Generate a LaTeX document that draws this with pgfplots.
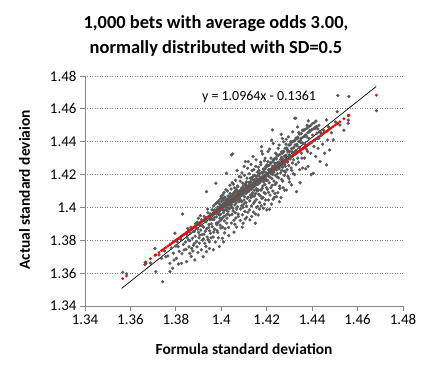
\documentclass[border=0pt]{standalone}
\usepackage{fontspec}
\setmainfont{Carlito}
\usepackage{pgfplots}
\usepackage{pgfplotstable}
\pgfplotsset{compat=1.18}
\definecolor{ptgray}{HTML}{595959}
\definecolor{axgray}{HTML}{868686}
\pgfplotstableread{
x y
1.3566 1.3605
1.3583 1.3596
1.3664 1.3652
1.3668 1.3660
1.3688 1.3662
1.3708 1.3751
1.3712 1.3609
1.3726 1.3711
1.3742 1.3548
1.3737 1.3690
1.3756 1.3700
1.3750 1.3735
1.3774 1.3660
1.3774 1.3609
1.3786 1.3630
1.3789 1.3721
1.3796 1.3843
1.3765 1.3705
1.3780 1.3752
1.3792 1.3680
1.3803 1.3690
1.3810 1.3761
1.3825 1.3660
1.3830 1.3960
1.3836 1.3741
1.3806 1.3790
1.3815 1.3732
1.3822 1.3805
1.3812 1.3655
1.3833 1.3775
1.3827 1.3718
1.3800 1.3765
1.3847 1.3670
1.3855 1.3802
1.3862 1.3721
1.3870 1.3751
1.3877 1.3853
1.3842 1.3790
1.3850 1.3835
1.3858 1.3760
1.3866 1.3880
1.3873 1.3812
1.3845 1.3745
1.3852 1.3872
1.3861 1.3798
1.3868 1.3702
1.3878 1.3770
1.3849 1.3818
1.3864 1.3845
1.3875 1.3735
1.3884 1.3680
1.3891 1.3792
1.3899 1.3934
1.3906 1.3832
1.3882 1.3855
1.3887 1.3901
1.3893 1.3760
1.3896 1.3868
1.3902 1.3815
1.3908 1.3950
1.3912 1.3742
1.3915 1.3889
1.3918 1.3800
1.3885 1.3825
1.3890 1.3875
1.3895 1.3910
1.3900 1.3848
1.3904 1.3782
1.3910 1.3862
1.3913 1.3925
1.3916 1.3835
1.3881 1.3780
1.3897 1.3725
1.3907 1.3890
1.3920 1.3700
1.3928 1.3782
1.3935 1.3731
1.3922 1.3880
1.3925 1.3945
1.3930 1.3855
1.3933 1.3912
1.3938 1.3820
1.3941 1.3968
1.3944 1.3878
1.3947 1.3790
1.3950 1.3925
1.3953 1.3842
1.3956 1.3900
1.3959 1.3985
1.3921 1.3808
1.3924 1.3838
1.3927 1.3915
1.3932 1.3762
1.3936 1.3870
1.3939 1.3938
1.3942 1.3805
1.3946 1.3895
1.3949 1.3858
1.3952 1.3960
1.3955 1.3815
1.3958 1.3930
1.3935 1.4096
1.3940 1.3990
1.3948 1.3750
1.3960 1.3882
1.3962 1.3955
1.3964 1.3820
1.3966 1.4010
1.3968 1.3925
1.3970 1.3868
1.3972 1.3978
1.3974 1.3790
1.3976 1.4147
1.3978 1.3942
1.3980 1.3895
1.3982 1.4030
1.3984 1.3848
1.3986 1.3965
1.3988 1.3910
1.3990 1.3998
1.3992 1.3762
1.3994 1.3935
1.3996 1.4052
1.3998 1.3875
1.3961 1.3928
1.3963 1.3985
1.3967 1.3850
1.3971 1.3940
1.3975 1.4022
1.3979 1.3905
1.3983 1.3990
1.3987 1.3815
1.3991 1.3955
1.3995 1.3892
1.3999 1.4068
1.3965 1.3742
1.3973 1.3970
1.3981 1.3860
1.3989 1.4040
1.3997 1.3922
1.4002 1.3932
1.4004 1.4055
1.4006 1.3880
1.4008 1.4012
1.4010 1.3968
1.4012 1.4090
1.4014 1.3845
1.4016 1.4025
1.4018 1.3950
1.4020 1.4108
1.4022 1.3985
1.4024 1.3905
1.4023 1.4208
1.4026 1.4048
1.4028 1.3960
1.4030 1.4070
1.4032 1.3878
1.4034 1.4015
1.4036 1.3992
1.4038 1.4135
1.4001 1.4035
1.4003 1.3990
1.4005 1.3812
1.4007 1.4078
1.4009 1.3942
1.4011 1.4020
1.4013 1.3918
1.4015 1.4062
1.4017 1.3870
1.4019 1.4002
1.4021 1.4045
1.4025 1.3935
1.4027 1.4100
1.4029 1.3975
1.4031 1.4030
1.4033 1.3828
1.4035 1.4058
1.4037 1.3952
1.4039 1.4085
1.4010 1.3790
1.4041 1.4010
1.4043 1.4112
1.4045 1.4320
1.4047 1.3958
1.4049 1.4075
1.4051 1.3995
1.4050 1.4326
1.4053 1.4142
1.4055 1.3922
1.4057 1.4040
1.4059 1.4098
1.4061 1.3968
1.4063 1.4165
1.4065 1.4028
1.4067 1.3880
1.4069 1.4085
1.4071 1.4002
1.4073 1.4125
1.4075 1.3945
1.4077 1.4060
1.4079 1.4188
1.4042 1.4068
1.4044 1.3905
1.4046 1.4030
1.4048 1.4150
1.4052 1.3978
1.4054 1.4088
1.4056 1.3850
1.4058 1.4120
1.4060 1.4015
1.4062 1.4055
1.4064 1.3935
1.4066 1.4108
1.4068 1.3990
1.4070 1.4225
1.4072 1.4045
1.4074 1.3960
1.4076 1.4095
1.4078 1.4035
1.4060 1.3898
1.4048 1.4000
1.4072 1.4130
1.4081 1.4052
1.4083 1.4160
1.4085 1.3990
1.4087 1.4105
1.4089 1.4035
1.4091 1.4210
1.4093 1.3955
1.4095 1.4080
1.4097 1.4130
1.4099 1.4020
1.4101 1.4250
1.4103 1.4065
1.4105 1.3930
1.4107 1.4145
1.4109 1.4092
1.4111 1.4008
1.4113 1.4178
1.4115 1.4055
1.4117 1.3970
1.4119 1.4120
1.4082 1.4095
1.4084 1.3920
1.4086 1.4185
1.4088 1.4040
1.4090 1.4075
1.4092 1.3880
1.4094 1.4148
1.4096 1.4000
1.4098 1.4112
1.4100 1.4045
1.4102 1.4195
1.4104 1.3975
1.4106 1.4088
1.4108 1.4030
1.4110 1.4155
1.4112 1.3940
1.4114 1.4100
1.4116 1.4238
1.4118 1.4062
1.4096 1.3904
1.4106 1.4279
1.4119 1.4279
1.4090 1.4010
1.4110 1.4125
1.4121 1.4098
1.4123 1.4205
1.4125 1.4040
1.4127 1.4150
1.4126 1.3924
1.4129 1.4075
1.4131 1.4262
1.4133 1.4010
1.4135 1.4120
1.4137 1.4185
1.4139 1.4068
1.4141 1.3972
1.4143 1.4230
1.4145 1.4105
1.4147 1.4035
1.4149 1.4160
1.4151 1.4085
1.4153 1.4290
1.4155 1.4000
1.4157 1.4140
1.4159 1.4215
1.4122 1.4135
1.4124 1.3985
1.4128 1.4178
1.4130 1.4060
1.4132 1.4110
1.4134 1.3945
1.4136 1.4225
1.4138 1.4090
1.4140 1.4145
1.4142 1.4025
1.4144 1.4195
1.4146 1.4070
1.4148 1.4130
1.4150 1.3960
1.4152 1.4250
1.4154 1.4048
1.4156 1.4175
1.4158 1.4100
1.4160 1.4005
1.4140 1.4310
1.4150 1.3904
1.4135 1.4080
1.4155 1.4115
1.4161 1.4140
1.4163 1.4245
1.4162 1.3954
1.4165 1.4080
1.4167 1.4190
1.4169 1.4030
1.4171 1.4160
1.4173 1.4275
1.4175 1.4105
1.4177 1.4370
1.4179 1.4055
1.4181 1.4210
1.4183 1.4130
1.4185 1.3995
1.4187 1.4235
1.4189 1.4090
1.4191 1.4170
1.4193 1.4300
1.4195 1.4045
1.4197 1.4200
1.4199 1.4120
1.4164 1.4105
1.4166 1.4225
1.4168 1.3990
1.4170 1.4150
1.4172 1.4070
1.4174 1.4260
1.4176 1.4010
1.4178 1.4185
1.4180 1.4115
1.4182 1.4325
1.4184 1.4060
1.4186 1.4155
1.4188 1.4220
1.4190 1.4020
1.4192 1.4140
1.4194 1.4085
1.4196 1.4250
1.4198 1.4165
1.4200 1.3985
1.4178 1.4342
1.4190 1.4285
1.4201 1.4195
1.4203 1.4110
1.4205 1.4280
1.4207 1.4045
1.4209 1.4230
1.4211 1.4150
1.4213 1.4355
1.4215 1.4075
1.4217 1.4210
1.4219 1.4300
1.4221 1.4020
1.4223 1.4175
1.4225 1.4250
1.4227 1.4100
1.4229 1.4390
1.4231 1.4215
1.4233 1.4060
1.4235 1.4270
1.4237 1.4140
1.4239 1.4330
1.4202 1.4260
1.4204 1.4165
1.4206 1.4340
1.4208 1.4092
1.4210 1.4225
1.4212 1.3988
1.4214 1.4185
1.4216 1.4265
1.4218 1.4120
1.4220 1.4235
1.4222 1.4410
1.4224 1.4135
1.4226 1.4200
1.4228 1.4050
1.4230 1.4290
1.4232 1.4160
1.4234 1.4240
1.4236 1.4085
1.4238 1.4195
1.4225 1.4472
1.4241 1.4240
1.4243 1.4150
1.4243 1.4066
1.4245 1.4320
1.4247 1.4205
1.4249 1.4090
1.4251 1.4275
1.4253 1.4180
1.4255 1.4380
1.4257 1.4130
1.4259 1.4255
1.4261 1.4210
1.4263 1.4060
1.4265 1.4305
1.4267 1.4225
1.4269 1.4420
1.4271 1.4160
1.4273 1.4265
1.4275 1.4340
1.4277 1.4195
1.4279 1.4105
1.4242 1.4295
1.4246 1.4185
1.4250 1.4360
1.4254 1.4235
1.4258 1.4115
1.4262 1.4290
1.4266 1.4170
1.4270 1.4245
1.4274 1.4400
1.4278 1.4220
1.4256 1.4035
1.4264 1.4445
1.4272 1.4120
1.4248 1.4255
1.4268 1.4330
1.4281 1.4310
1.4283 1.4215
1.4285 1.4385
1.4287 1.4106
1.4289 1.4280
1.4291 1.4350
1.4293 1.4190
1.4295 1.4430
1.4297 1.4255
1.4299 1.4320
1.4301 1.4155
1.4303 1.4295
1.4305 1.4400
1.4307 1.4240
1.4309 1.4137
1.4311 1.4340
1.4313 1.4270
1.4315 1.4460
1.4317 1.4205
1.4319 1.4365
1.4282 1.4250
1.4286 1.4415
1.4290 1.4230
1.4294 1.4345
1.4298 1.4175
1.4302 1.4380
1.4306 1.4310
1.4310 1.4225
1.4314 1.4400
1.4318 1.4290
1.4321 1.4330
1.4324 1.4543
1.4328 1.4543
1.4331 1.4096
1.4325 1.4410
1.4329 1.4260
1.4333 1.4375
1.4337 1.4300
1.4341 1.4455
1.4345 1.4230
1.4349 1.4395
1.4353 1.4330
1.4357 1.4470
1.4323 1.4200
1.4327 1.4345
1.4335 1.4420
1.4339 1.4275
1.4343 1.4365
1.4347 1.4150
1.4351 1.4420
1.4355 1.4300
1.4359 1.4390
1.4336 1.4490
1.4358 1.4240
1.4364 1.4472
1.4361 1.4390
1.4366 1.4300
1.4370 1.4440
1.4374 1.4355
1.4378 1.4500
1.4383 1.4527
1.4382 1.4250
1.4386 1.4420
1.4390 1.4470
1.4394 1.4330
1.4398 1.4395
1.4368 1.4385
1.4372 1.4235
1.4376 1.4430
1.4380 1.4340
1.4388 1.4390
1.4396 1.4200
1.4405 1.4208
1.4419 1.4492
1.4402 1.4440
1.4408 1.4370
1.4412 1.4480
1.4415 1.4310
1.4422 1.4420
1.4426 1.4360
1.4430 1.4500
1.4435 1.4280
1.4438 1.4455
1.4441 1.4441
1.4446 1.4385
1.4450 1.4470
1.4455 1.4330
1.4463 1.4533
1.4463 1.4259
1.4468 1.4410
1.4472 1.4490
1.4477 1.4350
1.4485 1.4455
1.4493 1.4411
1.4502 1.4520
1.4510 1.4583
1.4513 1.4681
1.4522 1.4502
1.4540 1.4470
1.4559 1.4531
1.4559 1.4512
1.4562 1.4675
1.4683 1.4589
}\bets
\pgfplotstableread{
x y
1.3981 1.3960
1.3985 1.4002
1.3989 1.3975
1.3993 1.4021
1.3997 1.3958
1.4001 1.4012
1.4005 1.3990
1.4009 1.4045
1.4013 1.3982
1.4017 1.4030
1.4021 1.4008
1.4025 1.4052
1.4029 1.3998
1.4033 1.4041
1.4037 1.4020
1.4041 1.4066
1.4045 1.4018
1.4049 1.4058
1.4053 1.4035
1.4057 1.4082
1.4061 1.4040
1.4065 1.4088
1.4069 1.4061
1.4073 1.4098
1.4077 1.4055
1.4081 1.4102
1.4085 1.4070
1.4089 1.4118
1.4093 1.4078
1.4097 1.4115
1.4101 1.4092
1.4105 1.4138
1.4109 1.4085
1.4113 1.4132
1.4117 1.4105
1.4121 1.4152
1.4125 1.4110
1.4129 1.4158
1.4133 1.4128
1.4137 1.4170
1.4141 1.4125
1.4145 1.4168
1.4149 1.4142
1.4153 1.4190
1.4157 1.4148
1.4161 1.4195
1.4165 1.4160
1.4169 1.4208
1.4173 1.4165
1.4177 1.4212
1.4181 1.4185
1.4185 1.4232
1.4189 1.4188
1.4193 1.4235
1.4197 1.4210
1.4201 1.4250
1.4205 1.4208
1.4209 1.4255
1.4213 1.4230
1.4217 1.4272
1.4221 1.4232
1.4225 1.4278
1.4229 1.4250
1.4233 1.4295
1.4237 1.4255
1.4241 1.4302
1.4245 1.4270
1.4249 1.4315
1.4253 1.4275
1.4257 1.4322
1.4261 1.4292
1.4265 1.4338
1.4269 1.4298
1.4273 1.4342
1.4277 1.4312
1.4281 1.4360
1.4285 1.4318
1.4289 1.4362
1.4293 1.4338
1.4297 1.4380
1.4301 1.4340
1.4305 1.4385
1.4309 1.4358
1.4313 1.4402
1.4317 1.4362
1.4321 1.4405
1.4325 1.4380
1.4329 1.4422
1.4333 1.4385
1.4337 1.4428
1.4341 1.4402
1.4345 1.4445
1.4349 1.4408
1.4353 1.4450
1.4357 1.4425
1.4361 1.4468
1.4365 1.4432
1.4369 1.4475
1.4373 1.4440
1.4377 1.4482
1.4381 1.4455
1.4385 1.4492
1.4389 1.4460
1.4393 1.4498
1.4397 1.4472
1.4401 1.4510
1.4405 1.4478
1.4409 1.4515
1.4413 1.4488
1.4417 1.4525
1.4421 1.4452
1.4425 1.4478
1.4429 1.4420
1.4433 1.4462
1.3963 1.3958
1.3971 1.3985
1.3977 1.3962
1.3984 1.3990
1.3992 1.3978
1.3998 1.4008
1.4004 1.3985
1.4011 1.4022
1.4016 1.4002
1.4023 1.4035
1.4027 1.4015
1.4034 1.4042
1.4039 1.4028
1.4046 1.4060
1.4051 1.4040
1.4058 1.4070
1.4063 1.4052
1.4070 1.4085
1.4075 1.4065
1.4082 1.4090
1.4087 1.4075
1.4094 1.4102
1.4099 1.4088
1.4106 1.4115
1.4111 1.4098
1.4118 1.4125
1.4123 1.4110
1.4130 1.4138
1.4135 1.4122
1.4142 1.4150
1.4147 1.4135
1.4154 1.4160
1.4159 1.4148
1.4166 1.4172
1.4171 1.4158
1.4178 1.4182
1.4183 1.4170
1.4190 1.4195
1.4195 1.4180
1.4202 1.4205
1.4207 1.4192
1.4214 1.4218
1.4219 1.4205
1.4226 1.4230
1.4231 1.4215
1.4238 1.4242
1.4243 1.4228
1.4250 1.4255
1.4255 1.4240
1.4262 1.4268
1.4267 1.4252
1.4274 1.4280
1.4279 1.4262
1.4286 1.4292
1.4291 1.4275
}\more
\begin{document}
\begin{tikzpicture}
\useasboundingbox (-85bp,-70bp) rectangle (349bp,306bp);
\begin{axis}[
  at={(0,0)}, anchor=south west,
  scale only axis, width=318bp, height=230bp,
  xmin=1.34, xmax=1.48, ymin=1.34, ymax=1.48,
  axis x line*=bottom, axis y line*=left,
  axis line style={axgray, line width=0.8bp, -},
  xtick={1.34,1.36,1.38,1.4,1.42,1.44,1.46,1.48},
  ytick={1.34,1.36,1.38,1.4,1.42,1.44,1.46,1.48},
  xticklabels={1.34,1.36,1.38,1.4,1.42,1.44,1.46,1.48},
  yticklabels={1.34,1.36,1.38,1.4,1.42,1.44,1.46,1.48},
  tick align=outside, major tick length=5bp,
  tick style={axgray, line width=0.8bp},
  ymajorgrids, grid style={axgray, line width=0.8bp, dash pattern=on 1bp off 1.5bp},
  tick label style={font=\fontsize{15}{17}\selectfont, text=black},
  /pgf/number format/assume math mode=true,
  clip=false,
]
\addplot[only marks, mark=*, color=red, mark size=1.2bp] table[x=x, y=x] {\bets};
\addplot[only marks, mark=*, color=ptgray, mark size=1.45bp] table[x=x, y=y] {\bets};
\addplot[only marks, mark=*, color=ptgray, mark size=1.45bp] table[x=x, y=y] {\more};
\addplot[black, line width=0.7bp] coordinates {(1.3561,1.3507) (1.4682,1.4736)};
\end{axis}
\node[anchor=base, font=\fontsize{18.5}{25}\selectfont\bfseries] at (131bp,277.5bp) {1,000 bets with average odds 3.00,};
\node[anchor=base, font=\fontsize{18.5}{25}\selectfont\bfseries] at (131bp,252.7bp) {normally distributed with SD=0.5};
\node[anchor=base, font=\fontsize{15.5}{18}\selectfont\bfseries] at (159bp,-48bp) {Formula standard deviation};
\node[anchor=base, rotate=90, font=\fontsize{15.5}{18}\selectfont\bfseries] at (-55bp,116bp) {Actual standard deviaion};
\node[anchor=base, font=\fontsize{14}{16}\selectfont] at (174bp,205.3bp) {y = 1.0964x - 0.1361};
\end{tikzpicture}
\end{document}
